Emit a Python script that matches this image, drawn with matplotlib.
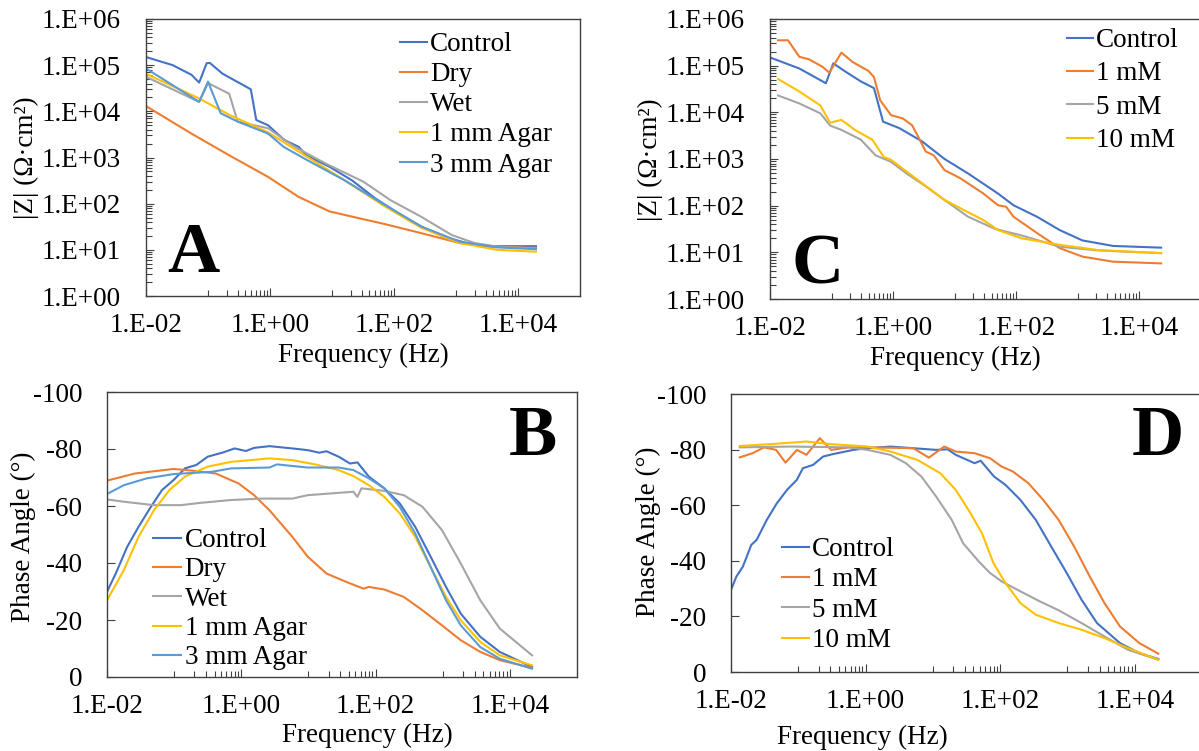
import numpy as np
import matplotlib
matplotlib.use("Agg")
import matplotlib.pyplot as plt
from matplotlib.ticker import FixedLocator, FuncFormatter, NullFormatter

plt.rcParams['font.family'] = ['Liberation Serif', 'DejaVu Serif']
plt.rcParams['axes.unicode_minus'] = False

W, H = 1199, 751

# ---------------- data ----------------
# A: |Z| vs frequency, sample types
ctrl_a_f = [0.01, 0.027, 0.054, 0.072, 0.095, 0.107, 0.17, 0.26, 0.49, 0.60, 0.93, 1.7, 2.9, 3.9, 9.1, 21, 50, 117, 275, 650, 1500, 3500, 19500]
ctrl_a_z = [1.5e5, 1.0e5, 6.2e4, 4.2e4, 1.1e5, 1.12e5, 6.6e4, 4.8e4, 3.0e4, 6.5e3, 5.0e3, 2.4e3, 1.7e3, 1.1e3, 630, 320, 130, 62, 32, 19, 14, 12, 12]
dry_a_f = [0.01, 0.054, 0.224, 0.93, 2.9, 9.1, 28, 66, 275, 1150, 3500, 19500]
dry_a_z = [1.3e4, 3.3e3, 1.1e3, 380, 140, 68, 48, 37, 23, 14, 11.7, 11]
wet_a_f = [0.01, 0.072, 0.10, 0.22, 0.30, 0.93, 2.5, 7.9, 32, 87, 275, 850, 2000, 4700, 19500]
wet_a_z = [5.6e4, 1.6e4, 4.1e4, 2.4e4, 6.0e3, 4.3e3, 1.7e3, 740, 300, 120, 52, 21, 14, 11.7, 10.7]
agar1_a_f = [0.01, 0.072, 0.224, 0.93, 3.9, 16, 66, 275, 1150, 4700, 19500]
agar1_a_z = [6.5e4, 1.9e4, 8.3e3, 3.5e3, 1.05e3, 320, 93, 30, 14, 10, 9.1]
agar3_a_f = [0.01, 0.072, 0.10, 0.16, 0.30, 0.93, 1.66, 3.9, 16, 66, 275, 1150, 4700, 19500]
agar3_a_z = [8.5e4, 1.6e4, 4.4e4, 9.1e3, 6.0e3, 3.3e3, 1.7e3, 890, 320, 100, 32, 15, 11.3, 10.3]

# B: phase vs frequency, sample types
ctrl_b_f = [0.01, 0.0135, 0.020, 0.0295, 0.045, 0.066, 0.098, 0.145, 0.214, 0.316, 0.537, 0.794, 1.17, 1.55, 2.63, 5.75, 9.77, 14.5, 18.6, 28.2, 41.7, 53.7, 79.4, 135, 229, 389, 661, 1120, 1860, 3630, 7080, 21400]
ctrl_b_p = [-29.9, -36.3, -45.7, -52.7, -59.7, -65.6, -69.1, -73.2, -74.4, -77.3, -78.8, -80.2, -79.3, -80.4, -81.0, -80.2, -79.6, -78.7, -79.2, -77.3, -74.9, -75.3, -70.3, -66.2, -60.9, -52.7, -42.2, -31.6, -22.2, -14.1, -8.8, -3.5]
dry_b_f = [0.01, 0.026, 0.098, 0.186, 0.417, 0.912, 1.55, 2.63, 5.75, 9.77, 18.6, 36.3, 66.1, 79.4, 135, 263, 501, 977, 1860, 3630, 7080, 21400]
dry_b_p = [-68.9, -71.4, -73.0, -72.4, -71.4, -67.9, -63.8, -58.5, -49.2, -42.2, -36.3, -33.4, -31.0, -31.6, -30.7, -28.1, -23.4, -18.1, -12.9, -8.8, -5.9, -3.2]
wet_b_f = [0.01, 0.0178, 0.050, 0.126, 0.245, 0.708, 2.0, 5.75, 9.77, 21.4, 46.8, 53.7, 61.7, 135, 263, 501, 977, 1860, 3630, 7080, 21400]
wet_b_p = [-62.3, -61.5, -60.3, -60.3, -61.1, -62.1, -62.6, -62.6, -63.8, -64.4, -65.0, -63.2, -66.2, -65.3, -63.8, -59.7, -51.5, -39.8, -26.9, -17.0, -7.6]
agar1_b_f = [0.01, 0.0178, 0.0295, 0.050, 0.085, 0.145, 0.316, 0.708, 2.63, 5.75, 12.6, 28.2, 46.8, 79.4, 135, 229, 389, 661, 1120, 1860, 3630, 7080, 21400]
agar1_b_p = [-26.9, -37.5, -49.2, -58.5, -65.6, -70.3, -73.8, -75.5, -76.7, -76.1, -74.6, -72.6, -70.5, -67.3, -63.2, -57.4, -49.2, -38.6, -28.1, -19.9, -12.3, -7.6, -4.1]
agar3_b_f = [0.01, 0.0178, 0.039, 0.098, 0.363, 0.708, 2.63, 3.39, 9.77, 28.2, 46.8, 79.4, 135, 229, 389, 661, 1120, 1860, 3630, 7080, 21400]
agar3_b_p = [-64.2, -67.3, -69.7, -71.2, -72.0, -73.2, -73.5, -74.6, -73.5, -73.5, -72.6, -69.7, -66.2, -59.7, -50.4, -38.6, -26.9, -18.1, -10.5, -6.4, -2.9]

# C: |Z| vs frequency, electrolyte concentration
ctrl_c_f = [0.01, 0.030, 0.081, 0.107, 0.17, 0.30, 0.49, 0.69, 1.26, 2.95, 6.9, 16.6, 51, 91, 219, 513, 1200, 3800, 22900]
ctrl_c_z = [1.5e5, 8.7e4, 4.2e4, 1.12e5, 7.4e4, 4.6e4, 3.3e4, 6.3e3, 4.6e3, 2.4e3, 1.0e3, 490, 182, 102, 58, 30, 18, 13.7, 12.6]
mm1_c_f = [0.0135, 0.0196, 0.030, 0.043, 0.071, 0.092, 0.145, 0.22, 0.40, 0.49, 0.62, 0.93, 1.44, 2.04, 2.57, 3.4, 4.6, 6.9, 12.3, 29.5, 51, 69, 91, 219, 513, 1200, 3800, 22900]
mm1_c_z = [3.5e5, 3.5e5, 1.55e5, 1.37e5, 9.5e4, 7.1e4, 1.9e5, 1.2e5, 7.7e4, 5.7e4, 1.8e4, 8.7e3, 7.4e3, 5.3e3, 3.0e3, 1.45e3, 1.2e3, 575, 390, 182, 102, 95, 58, 26, 12.3, 8.1, 6.3, 5.8]
mm5_c_f = [0.0135, 0.030, 0.066, 0.095, 0.145, 0.30, 0.52, 0.93, 1.66, 3.4, 6.9, 16.6, 45, 123, 513, 2140, 22900]
mm5_c_z = [2.3e4, 1.55e4, 9.5e3, 5.2e3, 4.2e3, 2.6e3, 1.2e3, 870, 490, 260, 132, 58, 32, 23, 13.2, 11, 9.6]
mm10_c_f = [0.0135, 0.030, 0.066, 0.095, 0.145, 0.24, 0.46, 0.71, 0.93, 1.66, 6.9, 29.5, 51, 123, 513, 2140, 22900]
mm10_c_z = [5.2e4, 2.8e4, 1.4e4, 6.0e3, 6.9e3, 4.2e3, 2.6e3, 1.1e3, 960, 540, 132, 49, 30, 20, 14.5, 11.2, 9.6]

# D: phase vs frequency, electrolyte concentration
ctrl_d_f = [0.01, 0.012, 0.015, 0.020, 0.024, 0.034, 0.048, 0.068, 0.095, 0.117, 0.166, 0.234, 0.33, 0.66, 1.07, 2.34, 5.13, 11.2, 16.6, 21.9, 32.4, 41.7, 51.3, 81.3, 120, 200, 339, 575, 977, 1620, 2750, 6030, 11700, 22400]
ctrl_d_p = [-29.5, -34.3, -37.9, -45.7, -47.5, -54.7, -60.7, -65.5, -69.1, -73.3, -74.5, -77.5, -78.4, -79.9, -80.5, -81.1, -80.5, -79.9, -80.1, -78.1, -76.3, -75.1, -76.0, -70.3, -67.3, -61.9, -54.7, -45.1, -35.6, -26.0, -17.6, -10.4, -6.8, -4.7]
mm1_d_f = [0.0135, 0.0209, 0.0309, 0.0468, 0.0646, 0.0955, 0.132, 0.209, 0.309, 0.562, 2.04, 5.13, 8.71, 14.8, 21.9, 41.7, 70.8, 105, 155, 263, 437, 741, 1260, 2140, 3550, 6030, 11700, 22400]
mm1_d_p = [-77.2, -78.7, -80.8, -79.9, -75.3, -79.9, -78.1, -84.1, -79.9, -80.8, -80.7, -80.5, -77.1, -81.1, -79.3, -78.7, -76.9, -73.9, -72.1, -67.9, -61.9, -54.7, -45.1, -34.4, -24.8, -16.4, -10.4, -6.6]
mm5_d_f = [0.0135, 0.078, 0.562, 1.07, 2.34, 3.98, 6.76, 11.2, 19.1, 28.2, 47.9, 70.8, 105, 200, 389, 741, 1620, 3550, 7940, 22400]
mm5_d_p = [-80.8, -81.1, -80.8, -79.9, -78.1, -75.1, -70.3, -63.1, -54.7, -46.3, -39.8, -35.6, -32.6, -29.0, -25.4, -22.2, -17.6, -12.8, -8.0, -4.4]
mm10_d_f = [0.0135, 0.0407, 0.132, 0.288, 1.07, 2.34, 5.89, 12.9, 21.9, 36.3, 53.7, 79.4, 120, 200, 339, 741, 1620, 3550, 7940, 22400]
mm10_d_p = [-81.3, -82.0, -82.9, -82.0, -81.1, -79.3, -76.3, -71.5, -65.5, -57.1, -49.9, -39.2, -32.0, -24.8, -20.6, -17.6, -15.2, -12.2, -8.6, -4.4]

labels_ab = ['Control', 'Dry', 'Wet', '1 mm Agar', '3 mm Agar']
labels_cd = ['Control', '1 mM', '5 mM', '10 mM']
colors_ab = ['#4472C4', '#ED7D31', '#A5A5A5', '#FFC000', '#5B9BD5']
colors_cd = ['#4472C4', '#ED7D31', '#A5A5A5', '#FFC000']

FS = 19.5
LW = 1.5
SPINE = '#404040'
x_major = [1e-2, 1e0, 1e2, 1e4]
x_minor = [k * 10.0 ** e for e in (-1, 1, 3) for k in range(1, 10)]


def sci(v, pos=None):
    return '1.E%+03d' % int(round(np.log10(v)))


fig = plt.figure(figsize=(W / 100, H / 100), dpi=100)


def px_axes(l, t, r, b):
    return fig.add_axes([l / W, 1 - b / H, (r - l) / W, (b - t) / H])


def style(ax):
    ax.set_xscale('log')
    ax.set_xlim(1e-2, 1e5)
    ax.xaxis.set_major_locator(FixedLocator(x_major))
    ax.xaxis.set_minor_locator(FixedLocator(x_minor))
    ax.xaxis.set_major_formatter(FuncFormatter(sci))
    ax.xaxis.set_minor_formatter(NullFormatter())
    for s in ax.spines.values():
        s.set_color(SPINE)
        s.set_linewidth(1.0)
    ax.tick_params(which='both', direction='in', color=SPINE, width=0.8,
                   labelsize=FS, top=False, right=False)
    ax.tick_params(which='major', length=5.5)
    ax.tick_params(which='minor', length=4)
    ax.tick_params(axis='y', pad=18)
    ax.tick_params(axis='x', pad=12)


def style_z(ax):
    style(ax)
    ax.set_yscale('log')
    ax.set_ylim(1, 1e6)
    ax.yaxis.set_major_locator(FixedLocator([10.0 ** e for e in range(7)]))
    ax.yaxis.set_minor_locator(FixedLocator([k * 10.0 ** e for e in range(6) for k in range(2, 10)]))
    ax.yaxis.set_major_formatter(FuncFormatter(sci))
    ax.yaxis.set_minor_formatter(NullFormatter())


def style_p(ax):
    style(ax)
    ax.set_ylim(0, -100)
    ax.set_yticks([0, -20, -40, -60, -80, -100])
    ax.set_yticklabels(['0', '-20', '-40', '-60', '-80', '-100'])
    ax.tick_params(axis='y', which='major', length=6)


def legend(ax, x0, top, spacing, hlen):
    ax.legend(loc='upper left', bbox_to_anchor=(x0 / W, 1 - top / H),
              bbox_transform=fig.transFigure, frameon=False, fontsize=FS,
              handlelength=hlen, handletextpad=0.12, labelspacing=spacing,
              borderpad=0, borderaxespad=0)


def ptext(x, y, s, **kw):
    fig.text(x / W, 1 - y / H, s, **kw)


# ---------------- A ----------------
axA = px_axes(146, 19, 580, 296)
style_z(axA)
for f, z, lab, c in zip([ctrl_a_f, dry_a_f, wet_a_f, agar1_a_f, agar3_a_f],
                        [ctrl_a_z, dry_a_z, wet_a_z, agar1_a_z, agar3_a_z],
                        labels_ab, colors_ab):
    axA.plot(f, z, color=c, lw=LW, label=lab)
legend(axA, 400, 32, 0.19, 1.0)

# ---------------- B ----------------
axB = px_axes(107, 392, 577, 677)
style_p(axB)
for f, p, lab, c in zip([ctrl_b_f, dry_b_f, wet_b_f, agar1_b_f, agar3_b_f],
                        [ctrl_b_p, dry_b_p, wet_b_p, agar1_b_p, agar3_b_p],
                        labels_ab, colors_ab):
    axB.plot(f, p, color=c, lw=LW, label=lab)
legend(axB, 153, 528, 0.16, 1.05)

# ---------------- C ----------------
axC = px_axes(770, 19, 1200.5, 299)
style_z(axC)
for f, z, lab, c in zip([ctrl_c_f, mm1_c_f, mm5_c_f, mm10_c_f],
                        [ctrl_c_z, mm1_c_z, mm5_c_z, mm10_c_z],
                        labels_cd, colors_cd):
    axC.plot(f, z, color=c, lw=LW, label=lab)
legend(axC, 1067, 28, 0.31, 0.95)

# ---------------- D ----------------
axD = px_axes(731, 394, 1202, 672)
style_p(axD)
for f, p, lab, c in zip([ctrl_d_f, mm1_d_f, mm5_d_f, mm10_d_f],
                        [ctrl_d_p, mm1_d_p, mm5_d_p, mm10_d_p],
                        labels_cd, colors_cd):
    axD.plot(f, p, color=c, lw=LW, label=lab)
legend(axD, 782, 537, 0.2, 1.0)

# axis titles
zlab = '|Z| (\u03a9\u00b7cm\u00b2)'
ptext(26, 158, zlab, rotation=90, ha='center', va='center', fontsize=FS)
ptext(650, 160, zlab, rotation=90, ha='center', va='center', fontsize=FS)
ptext(23, 537, 'Phase Angle (\u00b0)', rotation=90, ha='center', va='center', fontsize=FS)
ptext(648, 532, 'Phase Angle (\u00b0)', rotation=90, ha='center', va='center', fontsize=FS)
ptext(363, 355, 'Frequency (Hz)', ha='center', va='center', fontsize=FS)
ptext(955, 358, 'Frequency (Hz)', ha='center', va='center', fontsize=FS)
ptext(367, 735, 'Frequency (Hz)', ha='center', va='center', fontsize=FS)
ptext(862, 737, 'Frequency (Hz)', ha='center', va='center', fontsize=FS)

# panel letters
for x, y, s in [(193, 272, 'A'), (533, 455, 'B'), (818, 283, 'C'), (1158, 455, 'D')]:
    ptext(x, y, s, ha='center', va='baseline', fontsize=52, fontweight='bold')

fig.savefig('out.png', dpi=100)
